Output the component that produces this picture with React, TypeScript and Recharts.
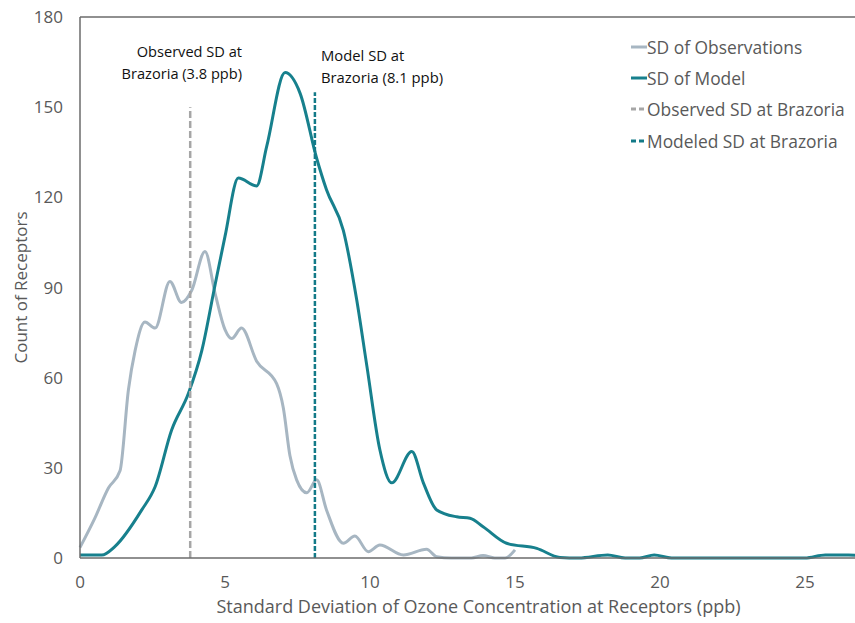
import React from "react";
import { LineChart, Line, XAxis, YAxis, ReferenceLine, Legend } from "recharts";

// SD of Observations (x = SD in ppb, y = count of receptors)
const obsX = [0, 0.5, 0.98, 1.38, 1.67, 1.9, 2.24, 2.59, 3.1, 3.5, 3.85, 4.31, 4.66, 5.0, 5.23, 5.57, 6.09, 6.78, 7.01, 7.24, 7.47, 7.82, 8.16, 8.5, 9.08, 9.48, 9.94, 10.34, 11.15, 11.95, 12.3, 12.8, 13.5, 13.9, 14.3, 14.66, 15.0];
const obsY = [3.5, 13, 23.3, 29, 56, 69, 78.5, 76.5, 92, 85, 89, 102, 88, 76, 73, 76.5, 65.5, 58, 50, 34, 26, 21.7, 26, 16, 4.9, 7.3, 2.1, 4.3, 1, 2.9, 0.4, 0, 0, 0.8, 0, 0, 2.7];

// SD of Model
const modelX = [0, 0.75, 1.2, 2.13, 2.59, 3.16, 3.74, 4.2, 4.66, 5.0, 5.46, 6.09, 6.44, 7.07, 7.59, 8.16, 8.5, 9.08, 9.54, 9.89, 10.34, 10.75, 11.44, 11.84, 12.3, 12.99, 13.45, 13.9, 14.71, 15.75, 16.55, 17.2, 18.2, 18.8, 19.3, 19.8, 20.4, 25.0, 25.7, 26.5, 27];
const modelY = [1, 1, 3.8, 16, 23.7, 42.6, 54.8, 69, 91, 107, 126.4, 123.8, 137, 161.5, 154.6, 133, 122.5, 109, 86, 64, 36, 25, 35.4, 25, 16, 13.7, 13.2, 10.4, 4.9, 3.2, 0.2, 0, 1, 0, 0, 1, 0, 0, 1, 1, 0.8];

// Brazoria markers: [x, bottom, top]
const observedBrazoria = [3.8, 0, 150];
const modeledBrazoria = [8.1, 0, 155];

const xTicks = [0, 5, 10, 15, 20, 25];
const yTicks = [0, 30, 60, 90, 120, 150, 180];

const seriesNames = ["SD of Observations", "SD of Model", "Observed SD at Brazoria", "Modeled SD at Brazoria"];

const OBS_COLOR = "#a7b6c2";
const MODEL_COLOR = "#17808d";
const OBS_REF_COLOR = "#a6a6a6";
const MODEL_REF_COLOR = "#137a88";
const AXIS_COLOR = "#6b6b6b";
const TEXT_COLOR = "#595959";
const FONT = "'Open Sans', 'Noto Sans', sans-serif";

const obsData = obsX.map((x, i) => ({ x, y: obsY[i] }));
const modelData = modelX.map((x, i) => ({ x, y: modelY[i] }));
const obsRefData = [
  { x: observedBrazoria[0], y: observedBrazoria[1] },
  { x: observedBrazoria[0], y: observedBrazoria[2] },
];
const modelRefData = [
  { x: modeledBrazoria[0], y: modeledBrazoria[1] },
  { x: modeledBrazoria[0], y: modeledBrazoria[2] },
];

const legendItems = [
  { name: seriesNames[0], color: OBS_COLOR, dash: undefined },
  { name: seriesNames[1], color: MODEL_COLOR, dash: undefined },
  { name: seriesNames[2], color: OBS_REF_COLOR, dash: "5 3" },
  { name: seriesNames[3], color: MODEL_REF_COLOR, dash: "5 3" },
];

function LegendContent() {
  return (
    <div style={{ fontFamily: FONT, fontSize: 17.4, color: TEXT_COLOR }}>
      {legendItems.map((it) => (
        <div key={it.name} style={{ display: "flex", alignItems: "center", height: 31.3 }}>
          <svg width={16} height={4} style={{ marginRight: 0 }}>
            <line x1={0} y1={2} x2={16} y2={2} stroke={it.color} strokeWidth={3} strokeDasharray={it.dash} />
          </svg>
          <span>{it.name}</span>
        </div>
      ))}
    </div>
  );
}

function YLabel(props: any) {
  const vb = props.viewBox || { x: 0, y: 17, width: 80, height: 541 };
  const cx = 20;
  const cy = vb.y + vb.height / 2;
  return (
    <text x={cx} y={cy} transform={`rotate(-90 ${cx} ${cy})`} textAnchor="middle" dominantBaseline="central" fill={TEXT_COLOR} fontSize={17} fontFamily={FONT}>
      Count of Receptors
    </text>
  );
}

export default function App() {
  return (
    <div style={{ position: "absolute", left: 0, top: 0, width: 855, height: 623, overflow: "hidden", background: "#fff" }}>
      <LineChart width={870} height={623} margin={{ top: 17, right: 7, bottom: 0, left: 0 }} style={{ fontFamily: FONT }}>
        <XAxis
          type="number"
          dataKey="x"
          domain={[0, 27]}
          ticks={xTicks}
          allowDuplicatedCategory={false}
          height={65}
          axisLine={{ stroke: AXIS_COLOR, strokeWidth: 1.5 }}
          tickLine={false}
          tickMargin={12}
          tick={{ fill: TEXT_COLOR, fontSize: 17, fontFamily: FONT }}
          label={{ value: "Standard Deviation of Ozone Concentration at Receptors (ppb)", position: "insideBottom", offset: 10, dx: 7, fill: TEXT_COLOR, fontSize: 18, fontFamily: FONT }}
        />
        <YAxis
          type="number"
          domain={[0, 180]}
          ticks={yTicks}
          width={80}
          axisLine={{ stroke: AXIS_COLOR, strokeWidth: 1.5 }}
          tickLine={false}
          tickMargin={11}
          tick={{ fill: TEXT_COLOR, fontSize: 17, fontFamily: FONT }}
          label={<YLabel />}
        />
        <ReferenceLine y={180} stroke={AXIS_COLOR} strokeWidth={1.5} />
        <Line data={obsData} dataKey="y" name={seriesNames[0]} type="monotone" stroke={OBS_COLOR} strokeWidth={3} dot={false} isAnimationActive={false} />
        <Line data={modelData} dataKey="y" name={seriesNames[1]} type="monotone" stroke={MODEL_COLOR} strokeWidth={3} dot={false} isAnimationActive={false} />
        <Line data={obsRefData} dataKey="y" name={seriesNames[2]} type="linear" stroke={OBS_REF_COLOR} strokeWidth={2.5} strokeDasharray="7 3" dot={false} isAnimationActive={false} />
        <Line data={modelRefData} dataKey="y" name={seriesNames[3]} type="linear" stroke={MODEL_REF_COLOR} strokeWidth={2.5} strokeDasharray="5 2" dot={false} isAnimationActive={false} />
        <Legend content={<LegendContent />} layout="horizontal" verticalAlign="middle" align="center" wrapperStyle={{ position: "absolute", left: 631, top: 31, width: 230 }} />
      </LineChart>
      <div style={{ position: "absolute", left: 0, width: 242, top: 41, textAlign: "right", fontFamily: FONT, fontSize: 14.6, lineHeight: "21.5px", color: "#111" }}>
        Observed SD at
        <br />
        Brazoria (3.8 ppb)
      </div>
      <div style={{ position: "absolute", left: 321, top: 44, fontFamily: FONT, fontSize: 14.8, lineHeight: "22px", color: "#111" }}>
        Model SD at
        <br />
        Brazoria (8.1 ppb)
      </div>
    </div>
  );
}
